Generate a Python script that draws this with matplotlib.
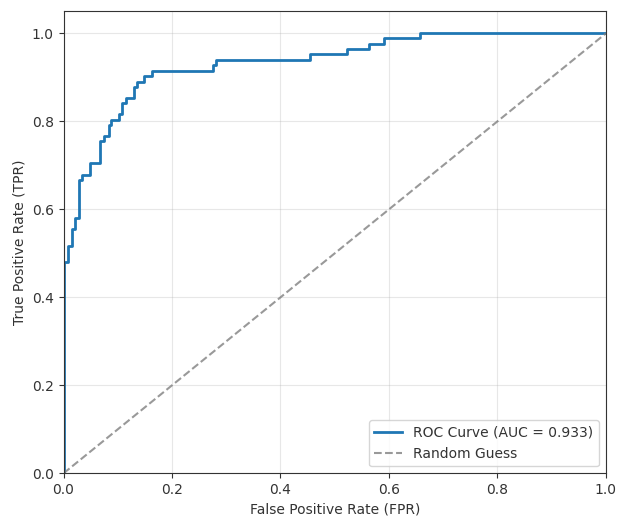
import matplotlib
matplotlib.use("Agg")
import matplotlib.pyplot as plt

fpr = [0.0, 0.0015, 0.0015, 0.0077, 0.0077, 0.015, 0.015, 0.021, 0.021, 0.0286, 0.0286,
       0.0335, 0.0335, 0.049, 0.049, 0.067, 0.067, 0.075, 0.075, 0.083, 0.083, 0.0875, 0.0875,
       0.102, 0.102, 0.108, 0.108, 0.115, 0.115, 0.129, 0.129, 0.136, 0.136, 0.149, 0.149,
       0.163, 0.163, 0.276, 0.276, 0.281, 0.281, 0.454, 0.454, 0.522, 0.522, 0.563, 0.563,
       0.590, 0.590, 0.657, 0.657, 1.0]
tpr = [0.0, 0.0, 0.481, 0.481, 0.517, 0.517, 0.555, 0.555, 0.581, 0.581, 0.667,
       0.667, 0.679, 0.679, 0.705, 0.705, 0.755, 0.755, 0.767, 0.767, 0.792, 0.792, 0.803,
       0.803, 0.816, 0.816, 0.841, 0.841, 0.852, 0.852, 0.877, 0.877, 0.889, 0.889, 0.903,
       0.903, 0.914, 0.914, 0.928, 0.928, 0.939, 0.939, 0.953, 0.953, 0.964, 0.964, 0.976,
       0.976, 0.990, 0.990, 1.0, 1.0]
auc_value = 0.933
diag = [0, 1]

plt.rcParams.update({
    "text.color": "#333333",
    "axes.labelcolor": "#333333",
    "xtick.color": "#333333",
    "ytick.color": "#333333",
    "axes.edgecolor": "#333333",
})

fig = plt.figure(figsize=(6.17, 5.18), dpi=100)
ax = fig.add_axes([0.103, 0.0863, 0.879, 0.8917])
ax.plot(fpr, tpr, color="#1f77b4", lw=2, label=f"ROC Curve (AUC = {auc_value:.3f})")
ax.plot(diag, diag, color="gray", ls="--", lw=1.5, alpha=0.8, label="Random Guess")
ax.set_xlim(0, 1)
ax.set_ylim(0, 1.05)
ax.set_xlabel("False Positive Rate (FPR)")
ax.set_ylabel("True Positive Rate (TPR)")
ax.grid(True, alpha=0.3)
ax.legend(loc="lower right")
fig.savefig("out.png", dpi=100)
